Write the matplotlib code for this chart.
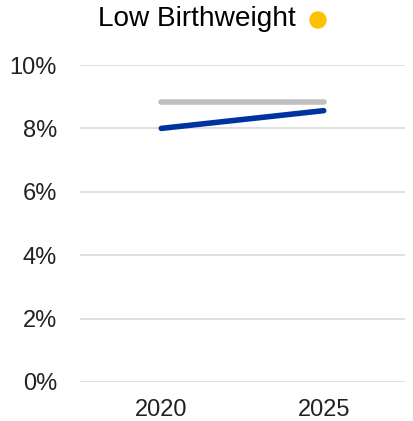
import matplotlib
matplotlib.use("Agg")
import matplotlib.pyplot as plt
from matplotlib.ticker import FuncFormatter

years = ["2020", "2025"]
benchmark = [8.82, 8.82]
actual = [8.0, 8.56]
yticks = [0, 2, 4, 6, 8, 10]

plt.rcParams['font.family'] = ['Liberation Sans', 'DejaVu Sans']

fig = plt.figure(figsize=(4.13, 4.21), dpi=100)
ax = fig.add_axes([80/413, 1 - 382/421, 325/413, (382-65)/421])

x = list(range(len(years)))
ax.plot(x, benchmark, color="#BFBFBF", lw=4.0, solid_capstyle="round", zorder=3)
ax.plot(x, actual, color="#0033A0", lw=4.0, solid_capstyle="round", zorder=4)

ax.set_xlim(-0.5, len(years) - 0.5)
ax.set_ylim(0, 10)
ax.set_yticks(yticks)
ax.yaxis.set_major_formatter(FuncFormatter(lambda v, p: f"{v:.0f}%"))
ax.set_xticks(x)
ax.set_xticklabels(years)
ax.grid(axis="y", color="#D9D9D9", lw=1.2)
ax.set_axisbelow(True)
for s in ax.spines.values():
    s.set_visible(False)
ax.tick_params(axis="both", length=0, labelsize=17, colors="#222222")
ax.tick_params(axis="x", pad=12)
ax.tick_params(axis="y", pad=16.5)

fig.text(197/413, 1 - 19/421, "Low Birthweight", ha="center", va="center", fontsize=20.2, color="black")
fig.patches.append(matplotlib.patches.Ellipse((318/413, 1 - 20/421), 16/413, 16/421,
                                              transform=fig.transFigure, color="#FFC000"))

fig.savefig("out.png", dpi=100)
